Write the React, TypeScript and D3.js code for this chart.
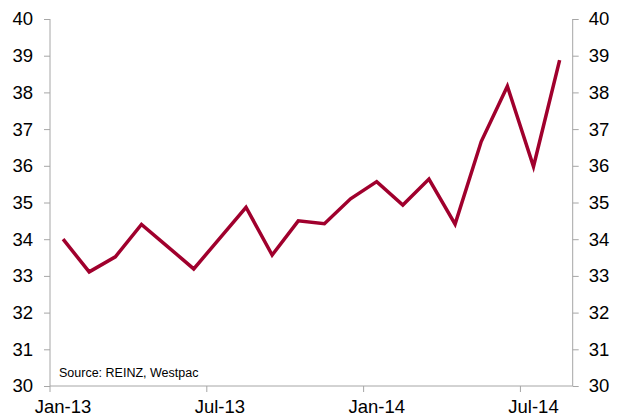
import React, { useRef, useEffect } from 'react';
import * as d3 from 'd3';

const months = [
  'Jan-13', 'Feb-13', 'Mar-13', 'Apr-13', 'May-13', 'Jun-13', 'Jul-13', 'Aug-13', 'Sep-13', 'Oct-13',
  'Nov-13', 'Dec-13', 'Jan-14', 'Feb-14', 'Mar-14', 'Apr-14', 'May-14', 'Jun-14', 'Jul-14', 'Aug-14'
];
const values = [
  34.0, 33.11, 33.52, 34.4, 33.8, 33.19, 34.03, 34.87, 33.57, 34.5,
  34.42, 35.1, 35.57, 34.93, 35.64, 34.41, 36.66, 38.17, 35.98, 38.88
];
const xLabels = ['Jan-13', 'Jul-13', 'Jan-14', 'Jul-14'];
const yTicks = [30, 31, 32, 33, 34, 35, 36, 37, 38, 39, 40];

const W = 620;
const H = 416;

export default function App() {
  const svgRef = useRef<SVGSVGElement>(null);

  useEffect(() => {
    const svg = d3.select(svgRef.current);
    svg.selectAll('*').remove();

    const left = 50;
    const right = 572.7;
    const top = 19;
    const bottom = 386;
    const axisColor = '#a6a6a6';
    const font = 'Arial, "Liberation Sans", sans-serif';
    const fontSize = 18.5;

    const x = d3.scaleBand<string>().domain(months).range([left, right]).padding(0);
    const y = d3.scaleLinear().domain([30, 40]).range([bottom, top]);

    // left axis
    const yl = svg.append('g').attr('transform', `translate(${left},0)`)
      .call(d3.axisLeft(y).tickValues(yTicks).tickSize(6).tickPadding(11).tickFormat(d3.format('d')));
    // right axis
    const yr = svg.append('g').attr('transform', `translate(${right},0)`)
      .call(d3.axisRight(y).tickValues(yTicks).tickSize(6).tickPadding(10).tickFormat(d3.format('d')));

    // x axis: ticks at band edges, labels at band centres
    const xa = svg.append('g').attr('transform', `translate(0,${bottom})`);
    xa.append('line').attr('x1', left).attr('x2', right).attr('stroke', axisColor);
    xLabels.forEach(m => {
      const x0 = x(m) as number;
      xa.append('line').attr('x1', x0).attr('x2', x0).attr('y1', 0).attr('y2', 6).attr('stroke', axisColor);
      xa.append('text')
        .attr('x', x0 + x.bandwidth() / 2)
        .attr('y', 27)
        .attr('text-anchor', 'middle')
        .attr('font-family', font)
        .attr('font-size', fontSize)
        .attr('fill', '#000')
        .text(m);
    });

    [yl, yr].forEach(g => {
      g.select('.domain').attr('stroke', axisColor).attr('d', `M0,${top}V${bottom}`);
      g.selectAll('.tick line').attr('stroke', axisColor);
      g.selectAll('.tick text').attr('font-family', font).attr('font-size', fontSize).attr('fill', '#000');
    });

    const line = d3.line<number>()
      .x((_, i) => (x(months[i]) as number) + x.bandwidth() / 2)
      .y(d => y(d));

    svg.append('path')
      .datum(values)
      .attr('d', line)
      .attr('fill', 'none')
      .attr('stroke', '#a0002d')
      .attr('stroke-width', 3.5)
      .attr('stroke-linejoin', 'miter');

    svg.append('text')
      .attr('x', 59)
      .attr('y', 377)
      .attr('font-family', font)
      .attr('font-size', 12.5)
      .attr('fill', '#000')
      .text('Source: REINZ, Westpac');
  }, []);

  return (
    <div style={{ position: 'absolute', left: 0, top: 0 }}>
      <svg ref={svgRef} width={W} height={H} style={{ display: 'block', background: '#fff' }} />
    </div>
  );
}
